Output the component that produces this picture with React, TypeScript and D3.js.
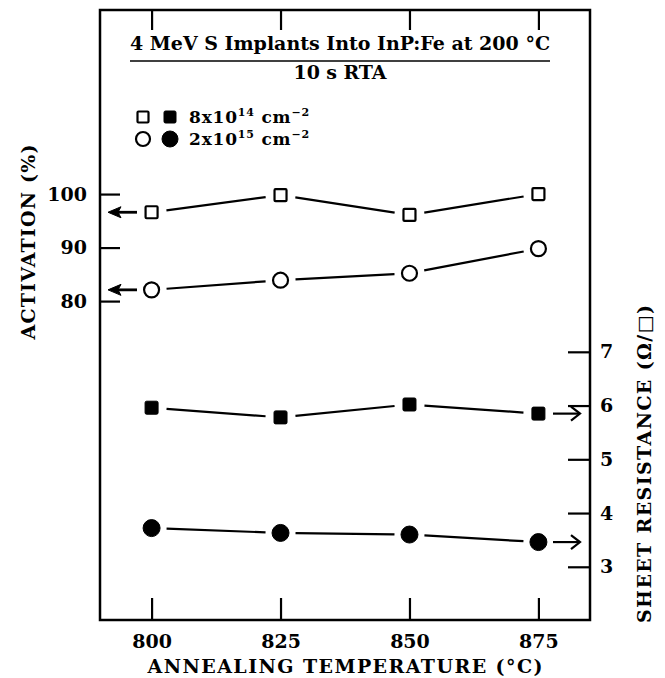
import React, { useEffect, useRef } from 'react';
import * as d3 from 'd3';

// annealing temperatures (°C)
const temps = [800, 825, 850, 875];
// activation (%) — open markers, left axis
const act8e14 = [96.6, 99.8, 96.1, 100];
const act2e15 = [82.1, 83.9, 85.2, 89.8];
// sheet resistance (ohm/sq) — filled markers, right axis
const rs8e14 = [5.96, 5.78, 6.02, 5.85];
const rs2e15 = [3.72, 3.63, 3.6, 3.46];

const xTicks = [800, 825, 850, 875];
const actTicks = [80, 90, 100];
const rsTicks = [3, 4, 5, 6, 7];

const W = 665;
const H = 678;
const FONT = '"DejaVu Serif", serif';

const App: React.FC = () => {
  const ref = useRef<SVGSVGElement>(null);

  useEffect(() => {
    const svg = d3.select(ref.current);
    svg.selectAll('*').remove();

    const left = 100, right = 590, top = 10, bottom = 620;

    const x = d3.scaleLinear().domain([790, 885]).range([left, right]);
    const yAct = d3.scaleLinear().domain([20.4, 134.4]).range([bottom, top]);
    const yRs = d3.scaleLinear().domain([2.01, 13.36]).range([bottom, top]);

    // frame
    svg.append('rect')
      .attr('x', left).attr('y', top)
      .attr('width', right - left).attr('height', bottom - top)
      .attr('fill', 'none').attr('stroke', '#000').attr('stroke-width', 2.5);

    const styleAxis = (g: any) => {
      g.select('.domain').remove();
      g.selectAll('line').attr('stroke', '#000').attr('stroke-width', 2.2);
      g.selectAll('text')
        .attr('font-family', FONT)
        .attr('font-weight', 'bold')
        .attr('font-size', 19)
        .attr('fill', '#000');
    };

    svg.append('g')
      .attr('transform', `translate(0,${bottom})`)
      .call(d3.axisBottom(x).tickValues(xTicks).tickSize(-22).tickSizeOuter(0).tickPadding(15).tickFormat(d3.format('d')))
      .call(styleAxis);

    svg.append('g')
      .attr('transform', `translate(0,${top})`)
      .call(d3.axisTop(x).tickValues(xTicks).tickSize(-20).tickSizeOuter(0).tickFormat(() => ''))
      .call(styleAxis);

    svg.append('g')
      .attr('transform', `translate(${left},0)`)
      .call(d3.axisLeft(yAct).tickValues(actTicks).tickSize(-20).tickSizeOuter(0).tickPadding(13))
      .call(styleAxis);

    svg.append('g')
      .attr('transform', `translate(${right},0)`)
      .call(d3.axisRight(yRs).tickValues(rsTicks).tickSize(-22).tickSizeOuter(0).tickPadding(10))
      .call(styleAxis);

    // connecting segments with gaps around markers
    const gap = 15;
    const drawSegments = (vals: number[], y: any) => {
      for (let i = 0; i < vals.length - 1; i++) {
        const x1 = x(temps[i]), y1 = y(vals[i]);
        const x2 = x(temps[i + 1]), y2 = y(vals[i + 1]);
        const len = Math.hypot(x2 - x1, y2 - y1);
        const ux = (x2 - x1) / len, uy = (y2 - y1) / len;
        svg.append('line')
          .attr('x1', x1 + ux * gap).attr('y1', y1 + uy * gap)
          .attr('x2', x2 - ux * gap).attr('y2', y2 - uy * gap)
          .attr('stroke', '#000').attr('stroke-width', 2.2);
      }
    };
    drawSegments(act8e14, yAct);
    drawSegments(act2e15, yAct);
    drawSegments(rs8e14, yRs);
    drawSegments(rs2e15, yRs);

    const square = (cx: number, cy: number, s: number, filled: boolean) =>
      svg.append('rect')
        .attr('x', cx - s / 2).attr('y', cy - s / 2)
        .attr('width', s).attr('height', s).attr('rx', filled ? 1.5 : 1)
        .attr('fill', filled ? '#000' : '#fff')
        .attr('stroke', '#000').attr('stroke-width', filled ? 1 : 2.2);
    const circle = (cx: number, cy: number, r: number, filled: boolean) =>
      svg.append('circle')
        .attr('cx', cx).attr('cy', cy).attr('r', r)
        .attr('fill', filled ? '#000' : '#fff')
        .attr('stroke', '#000').attr('stroke-width', filled ? 1 : 2.2);

    temps.forEach((t, i) => {
      square(x(t), yAct(act8e14[i]), 12, false);
      circle(x(t), yAct(act2e15[i]), 7.5, false);
      square(x(t), yRs(rs8e14[i]), 13, true);
      circle(x(t), yRs(rs2e15[i]), 8.5, true);
    });

    // arrows pointing to the relevant axis
    const leftArrow = (yy: number) => {
      svg.append('line')
        .attr('x1', 137).attr('y1', yy).attr('x2', 116).attr('y2', yy)
        .attr('stroke', '#000').attr('stroke-width', 2.8);
      svg.append('path')
        .attr('d', `M108,${yy} L121,${yy - 5.5} L118,${yy} L121,${yy + 5.5} Z`)
        .attr('fill', '#000').attr('stroke', '#000').attr('stroke-width', 1);
    };
    leftArrow(yAct(act8e14[0]));
    leftArrow(yAct(act2e15[0]));

    const rightArrow = (yy: number) => {
      svg.append('line')
        .attr('x1', 553).attr('y1', yy).attr('x2', 579).attr('y2', yy)
        .attr('stroke', '#000').attr('stroke-width', 2.2);
      svg.append('path')
        .attr('d', `M571,${yy - 7} L580,${yy} L571,${yy + 7}`)
        .attr('fill', 'none').attr('stroke', '#000').attr('stroke-width', 2.2);
    };
    rightArrow(yRs(rs8e14[3]));
    rightArrow(yRs(rs2e15[3]));

    const txt = (s: string, xx: number, yy: number, size: number, len: number, transform = '') => {
      const t = svg.append('text')
        .attr('text-anchor', 'middle')
        .attr('font-family', FONT).attr('font-weight', 'bold')
        .attr('font-size', size).attr('fill', '#000')
        .attr('textLength', len).attr('lengthAdjust', 'spacing')
        .text(s);
      if (transform) t.attr('transform', transform);
      else t.attr('x', xx).attr('y', yy);
      return t;
    };

    // title
    txt('4 MeV S Implants Into InP:Fe at 200 °C', 340, 50, 19, 420);
    svg.append('line')
      .attr('x1', 130).attr('x2', 550).attr('y1', 61).attr('y2', 61)
      .attr('stroke', '#000').attr('stroke-width', 1.5);
    txt('10 s RTA', 340, 79, 19, 93);

    // legend
    square(143, 117, 11, false);
    square(170, 117, 12, true);
    circle(143, 139, 7, false);
    circle(170, 139, 8, true);
    const leg = (base: string, sup1: string, yy: number) => {
      const t = svg.append('text')
        .attr('x', 189).attr('y', yy)
        .attr('font-family', FONT).attr('font-weight', 'bold')
        .attr('font-size', 17).attr('fill', '#000')
        .attr('letter-spacing', 0.8);
      t.append('tspan').text(base);
      t.append('tspan').attr('font-size', 11).attr('dy', -7).text(sup1);
      t.append('tspan').attr('dy', 7).text('  cm');
      t.append('tspan').attr('font-size', 11).attr('dy', -7).text('−2');
    };
    leg('8x10', '14', 123);
    leg('2x10', '15', 145);

    // axis titles
    txt('ANNEALING TEMPERATURE (°C)', 345, 673, 19, 395);
    txt('ACTIVATION (%)', 0, 0, 19, 195, 'translate(35,242) rotate(-90)');
    txt('SHEET RESISTANCE (Ω/□)', 0, 0, 19, 318, 'translate(651,464) rotate(-90)');
  }, []);

  return (
    <svg
      ref={ref}
      width={W}
      height={H}
      style={{ position: 'absolute', left: 0, top: 0, background: '#fff' }}
    />
  );
};

export default App;
